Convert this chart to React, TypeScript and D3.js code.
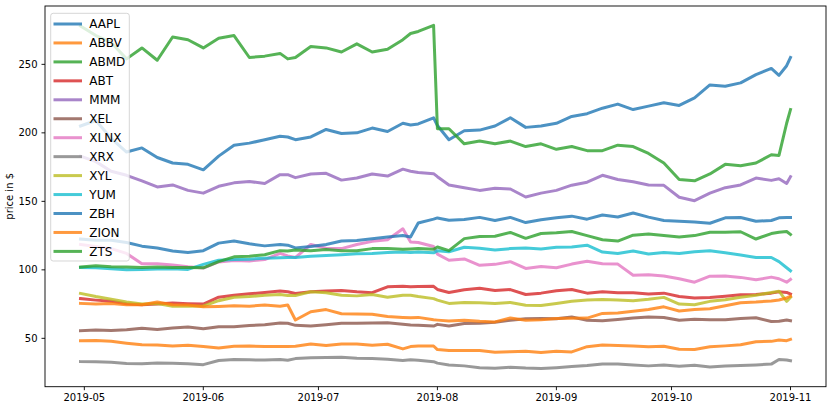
import React from 'react';
import * as d3 from 'd3';

const DATES = [
  '2019-04-30', '2019-05-04', '2019-05-08', '2019-05-12', '2019-05-16', '2019-05-20', '2019-05-24', '2019-05-28',
  '2019-06-01', '2019-06-05', '2019-06-09', '2019-06-13', '2019-06-17', '2019-06-21', '2019-06-23', '2019-06-25',
  '2019-06-29', '2019-07-03', '2019-07-07', '2019-07-11', '2019-07-15', '2019-07-19', '2019-07-23', '2019-07-25',
  '2019-07-27', '2019-07-31', '2019-08-01', '2019-08-04', '2019-08-08', '2019-08-12', '2019-08-16', '2019-08-20',
  '2019-08-24', '2019-08-28', '2019-09-01', '2019-09-05', '2019-09-09', '2019-09-13', '2019-09-17', '2019-09-21',
  '2019-09-25', '2019-09-29', '2019-10-03', '2019-10-07', '2019-10-11', '2019-10-15', '2019-10-19', '2019-10-23',
  '2019-10-27', '2019-10-29', '2019-10-31', '2019-11-01',
];

const AAPL = [205, 209, 196, 186, 189, 182, 178, 177, 173, 183, 191, 192.5, 195, 197.5, 197, 195, 197, 202.5, 199.5, 200, 203.5, 201, 207, 205.7, 206.5, 211, 205.4, 195, 201.5, 202, 205, 211, 204, 205, 207, 212, 214, 218, 221, 217, 219.5, 222, 220, 225.5, 235, 234, 236.5, 242.5, 247, 242, 249, 255];
const ABBV = [48.3, 48.5, 47.8, 46.5, 45.3, 45.2, 44.4, 45, 44, 43, 44.2, 44.4, 44, 44, 44, 44.3, 45.9, 44.8, 45.8, 45.9, 45, 45.7, 42.3, 44, 44.4, 44.4, 41.8, 41.2, 41.2, 41.1, 39.8, 40.3, 40.6, 39.6, 40.5, 40.1, 43.9, 45.2, 44.8, 44.4, 43.9, 44.2, 42, 41.8, 43.8, 44.5, 45.3, 47.5, 47.8, 48.8, 48.3, 49.3];
const ABMD = [278, 271, 266, 254, 262, 253, 270, 268, 262, 269, 271, 255, 256, 258, 254, 255, 263, 262, 259, 265, 259, 261, 268, 272.5, 274, 278.5, 203, 203, 192, 194, 192, 194, 190, 192, 188, 190, 187, 187, 191, 190, 185, 178, 166, 165, 170, 177, 176, 178, 184, 183.5, 207, 217];
const ABT = [79, 77.9, 77, 75.3, 74.5, 75, 75.8, 75.3, 75, 80, 81.5, 82.5, 83.5, 84.5, 84, 82.8, 84, 84.5, 85, 84, 83.3, 87.6, 88, 87.6, 87.8, 88, 85.7, 83.5, 85.5, 86.5, 85, 85.6, 82, 83, 84.8, 85.7, 83, 84, 83.3, 83.3, 82.3, 83, 80.5, 79.5, 79.9, 80.8, 81.8, 82, 83, 84, 83.5, 82.3];
const MMM = [183, 179, 172, 169, 165, 160.5, 162, 158, 156, 161, 163.5, 164.5, 163, 169.5, 169.5, 167.3, 170, 170.5, 165.5, 167, 170, 168.5, 173.5, 172, 171, 170.2, 168, 162, 160, 158, 159.5, 159, 153.2, 156, 158, 161.8, 164, 169, 166, 164.3, 162, 161.7, 153, 150.5, 156, 160, 162, 167, 165.3, 166.5, 163, 168];
const XEL = [55.6, 56, 55.8, 56.3, 57.3, 56.5, 57.5, 58.3, 57, 58.5, 58.5, 59.3, 60, 61.2, 61, 59.5, 59, 60, 61, 61, 61.2, 61.3, 60.3, 59.7, 59.5, 59, 60.2, 59, 60.8, 61, 61.8, 63.2, 64.3, 64.5, 64.3, 65.6, 63.2, 62.9, 63.8, 64.8, 65.6, 65.2, 63.2, 64, 63.5, 63.5, 64.4, 65, 62.3, 62.5, 63.4, 62.9];
const XLNX = [118.5, 117, 115.5, 112, 104.5, 104.5, 103.5, 102.2, 101.3, 105.8, 106.8, 106.5, 107.5, 112, 110.2, 109, 118.5, 115.8, 115.5, 118.5, 120.8, 122, 130, 120.4, 120, 117, 111.5, 107, 108, 103.3, 104, 106, 101, 102.4, 101.5, 104.2, 106.3, 104.4, 104.2, 96, 96.5, 95.5, 93.5, 91, 95.4, 95.5, 94.5, 92.7, 94.7, 93.5, 91, 93];
const XRX = [33, 32.9, 32.5, 31.7, 31.5, 32, 31.9, 31.5, 30.8, 33.8, 34.5, 34.3, 34.2, 34.5, 34, 35.2, 35.9, 36, 36.2, 35.5, 35.3, 34.8, 33.9, 34.3, 34, 33, 31.9, 30.5, 29.9, 28.6, 28.2, 28.9, 28.3, 28, 28.6, 29.4, 30.2, 31.3, 31.3, 30.5, 29.9, 30.5, 29.6, 30.4, 29, 29.8, 30.2, 30.6, 31.2, 34.6, 34.2, 33.7];
const XYL = [82.8, 80.5, 78.5, 76.5, 75, 75.5, 73.5, 73.5, 73.6, 77.5, 80, 80.5, 81.5, 82, 81.3, 81.3, 84, 83.3, 81.5, 81, 82, 80, 81.5, 81.5, 80.5, 79, 77.9, 75.5, 76.2, 76, 75.5, 76.2, 74.2, 74, 75.5, 77, 78, 78.4, 78, 77.5, 78.5, 79.9, 75, 74.5, 77, 78.2, 80, 81.5, 83.5, 84.4, 77, 80];
const YUM = [101.7, 101.5, 100.8, 100, 100.3, 100.6, 100.8, 100.3, 104, 107, 107.6, 107.8, 108.5, 108.8, 109, 109, 110, 110.5, 111, 111.7, 112, 112.6, 113, 112.7, 113, 112.4, 114, 113.2, 116.5, 115.8, 114.5, 115.5, 116, 115.3, 116.5, 116.7, 118, 113, 112, 113.7, 111.5, 112.6, 112, 113.2, 113.9, 112.4, 110.8, 109, 109, 106, 101.5, 99.3];
const ZBH = [122.5, 121.6, 121.6, 120, 117.3, 116, 113.8, 112.6, 114, 119.5, 121, 119, 117.5, 118.5, 118, 116, 117, 118.5, 121, 121.4, 122.7, 124, 125, 124, 134.2, 137, 137.9, 136.2, 136.7, 138.3, 136, 138.3, 134.5, 136.5, 138, 139.2, 137, 140, 138.6, 141.5, 138.5, 136, 135.5, 135, 134, 138, 138.2, 135.5, 136, 138, 138.2, 138.2];
const ZION = [75.5, 75, 75.5, 74.5, 74.5, 76.5, 74.5, 74.3, 73, 73.3, 73.8, 73.5, 74.3, 73.5, 74.3, 63.4, 69.4, 71, 68, 67.7, 67.6, 66, 65.3, 65, 65.3, 63.5, 63.3, 62.7, 63.2, 62.4, 62, 64.8, 63.2, 63.6, 64.4, 64.6, 64.8, 68.2, 68.5, 69.7, 71, 73, 70, 71, 71.6, 73.8, 76, 76.5, 77.3, 78, 79.5, 80.7];
const ZTS = [102, 103, 102.2, 102, 101.7, 102, 101.7, 101.7, 101.5, 106, 109.5, 110, 111, 114, 113.8, 114.5, 114, 114.8, 114, 114, 115.5, 115.6, 115, 115.3, 115.6, 115, 116.7, 114, 122.8, 124.3, 124.5, 127.3, 123, 126.5, 127, 128, 125, 122, 121, 125.3, 126.2, 125, 124, 125, 127.5, 127.5, 127.8, 122.5, 126.5, 127.5, 128, 125.8];

const SERIES_NAMES = ['AAPL', 'ABBV', 'ABMD', 'ABT', 'MMM', 'XEL', 'XLNX', 'XRX', 'XYL', 'YUM', 'ZBH', 'ZION', 'ZTS'];
const SERIES_VALUES = [AAPL, ABBV, ABMD, ABT, MMM, XEL, XLNX, XRX, XYL, YUM, ZBH, ZION, ZTS];
const PALETTE = ['#1f77b4', '#ff7f0e', '#2ca02c', '#d62728', '#9467bd', '#8c564b', '#e377c2', '#7f7f7f', '#bcbd22', '#17becf'];

const Y_TICKS = [50, 100, 150, 200, 250];
const X_TICK_LABELS = ['2019-05', '2019-06', '2019-07', '2019-08', '2019-09', '2019-10', '2019-11'];
const Y_LABEL = 'price in $';

const FONT = '"DejaVu Sans", sans-serif';

export default function App() {
  const W = 835;
  const H = 411;
  const left = 45;
  const right = 826;
  const top = 6;
  const bottom = 386.7;

  const parse = d3.utcParse('%Y-%m-%d');
  const dates = DATES.map((s) => parse(s) as Date);
  const first = dates[0];
  const last = dates[dates.length - 1];
  const pad = (last.getTime() - first.getTime()) * 0.05;
  const x = d3
    .scaleUtc()
    .domain([new Date(first.getTime() - pad), new Date(last.getTime() + pad)])
    .range([left, right]);
  const y = d3.scaleLinear().domain([14.7, 292.6]).range([bottom, top]);

  const line = d3
    .line<number>()
    .x((_, i) => x(dates[i]))
    .y((v) => y(v));

  const xTicks = X_TICK_LABELS.map((l) => ({ label: l, pos: x(parse(l + '-01') as Date) }));

  const legendX = 50.7;
  const legendY = 13.3;
  const legendW = 78.6;
  const rowH = 18.95;
  const legendH = 247.7;

  return (
    <svg
      width={W}
      height={H}
      style={{ position: 'absolute', left: 0, top: 0, background: '#fff' }}
      fontFamily={FONT}
    >
      <defs>
        <clipPath id="plotclip">
          <rect x={left} y={top} width={right - left} height={bottom - top} />
        </clipPath>
      </defs>
      <rect x={0} y={0} width={W} height={H} fill="#fff" />
      <g clipPath="url(#plotclip)">
        {SERIES_VALUES.map((vals, si) => (
          <path
            key={SERIES_NAMES[si]}
            d={line(vals) || ''}
            fill="none"
            stroke={PALETTE[si % 10]}
            strokeWidth={3}
            strokeOpacity={0.8}
            strokeLinejoin="round"
            strokeLinecap="square"
          />
        ))}
      </g>
      {/* axes frame */}
      <rect x={left} y={top} width={right - left} height={bottom - top} fill="none" stroke="#000" strokeWidth={0.9} />
      {/* y ticks */}
      {Y_TICKS.map((t) => (
        <g key={t}>
          <line x1={left - 3.5} x2={left} y1={y(t)} y2={y(t)} stroke="#000" strokeWidth={0.9} />
          <text x={left - 7.5} y={y(t) + 3.6} fontSize={10} textAnchor="end" fill="#000">
            {t}
          </text>
        </g>
      ))}
      {/* x ticks */}
      {xTicks.map((t) => (
        <g key={t.label}>
          <line x1={t.pos} x2={t.pos} y1={bottom} y2={bottom + 3.5} stroke="#000" strokeWidth={0.9} />
          <text x={t.pos} y={bottom + 14.5} fontSize={10} textAnchor="middle" fill="#000">
            {t.label}
          </text>
        </g>
      ))}
      <text
        transform={`translate(${12.5},${(top + bottom) / 2}) rotate(-90)`}
        fontSize={10}
        textAnchor="middle"
        fill="#000"
      >
        {Y_LABEL}
      </text>
      {/* legend */}
      <rect
        x={legendX}
        y={legendY}
        width={legendW}
        height={legendH}
        rx={2.5}
        fill="#fff"
        fillOpacity={0.8}
        stroke="#cccccc"
        strokeOpacity={0.8}
        strokeWidth={1}
      />
      {SERIES_NAMES.map((name, i) => {
        const cy = legendY + 10.7 + i * rowH;
        return (
          <g key={name}>
            <line
              x1={55}
              x2={80.5}
              y1={cy}
              y2={cy}
              stroke={PALETTE[i % 10]}
              strokeWidth={3}
              strokeOpacity={0.8}
              strokeLinecap="square"
            />
            <text x={89.3} y={cy + 4.3} fontSize={12} fill="#000">
              {name}
            </text>
          </g>
        );
      })}
    </svg>
  );
}
